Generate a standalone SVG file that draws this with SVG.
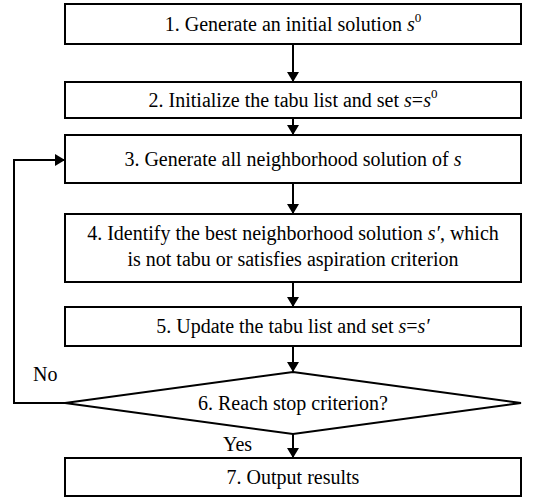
<svg xmlns="http://www.w3.org/2000/svg" width="534" height="497" viewBox="0 0 534 497">
<style>
.box{fill:#fff;stroke:#000;stroke-width:2}
.ln{fill:none;stroke:#000;stroke-width:2}
text{font-family:"Liberation Serif","Times New Roman",serif;font-size:20px;fill:#000}
.c{text-anchor:middle}
.i{font-style:italic}
</style>
<defs>
<marker id="ah" viewBox="0 0 10 12" refX="10" refY="6" markerWidth="10" markerHeight="12" markerUnits="userSpaceOnUse" orient="auto">
<path d="M0,0 L10,6 L0,12 z" fill="#000"/>
</marker>
</defs>
<g id="connectors">
<line class="ln" x1="293" y1="44" x2="293" y2="82" marker-end="url(#ah)"/>
<line class="ln" x1="293" y1="118" x2="293" y2="135" marker-end="url(#ah)"/>
<line class="ln" x1="293" y1="183" x2="293" y2="214" marker-end="url(#ah)"/>
<line class="ln" x1="293" y1="282" x2="293" y2="307" marker-end="url(#ah)"/>
<line class="ln" x1="293" y1="346" x2="293" y2="372" marker-end="url(#ah)"/>
<line class="ln" x1="293" y1="434" x2="293" y2="458" marker-end="url(#ah)"/>
<polyline class="ln" points="65,403 14,403 14,160 65,160" marker-end="url(#ah)"/>
<text x="33" y="381">No</text>
<text x="223" y="451">Yes</text>
</g>
<g id="n1">
<rect class="box" x="65" y="4" width="456" height="40"/>
<text class="c" x="293" y="31">1. Generate an initial solution <tspan class="i">s</tspan><tspan dy="-9" font-size="13">0</tspan></text>
</g>
<g id="n2">
<rect class="box" x="65" y="82" width="456" height="36"/>
<text class="c" x="293" y="107">2. Initialize the tabu list and set <tspan class="i">s</tspan>=<tspan class="i">s</tspan><tspan dy="-9" font-size="13">0</tspan></text>
</g>
<g id="n3">
<rect class="box" x="65" y="135" width="456" height="48"/>
<text class="c" x="293" y="166">3. Generate all neighborhood solution of <tspan class="i">s</tspan></text>
</g>
<g id="n4">
<rect class="box" x="65" y="214" width="456" height="68"/>
<text class="c" x="293" y="240">4. Identify the best neighborhood solution <tspan class="i">s′</tspan>, which</text>
<text class="c" x="293" y="266">is not tabu or satisfies aspiration criterion</text>
</g>
<g id="n5">
<rect class="box" x="65" y="307" width="456" height="39"/>
<text class="c" x="293" y="333">5. Update the tabu list and set <tspan class="i">s</tspan>=<tspan class="i">s′</tspan></text>
</g>
<g id="n6">
<polygon class="box" points="293,372 521,403 293,434 65,403"/>
<text class="c" x="293" y="410">6. Reach stop criterion?</text>
</g>
<g id="n7">
<rect class="box" x="65" y="458" width="456" height="38"/>
<text class="c" x="293" y="484">7. Output results</text>
</g>
</svg>
